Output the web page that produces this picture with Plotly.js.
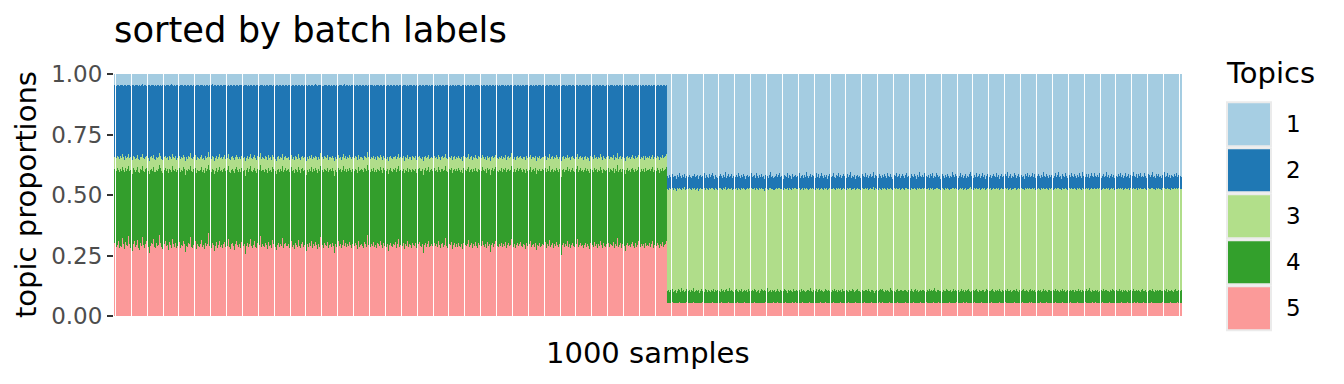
<!DOCTYPE html>
<html>
<head>
<meta charset="utf-8">
<script src="https://cdn.plot.ly/plotly-3.0.1.min.js"></script>
<style>html,body{margin:0;padding:0;background:#fff;}#chart{width:1344px;height:384px;}</style>
</head>
<body>
<div id="chart"></div>
<script>
// Topics (legend order) and their colours
const topicNames = ['1', '2', '3', '4', '5'];
const topicColors = ['#a6cee3', '#1f78b4', '#b2df8a', '#33a02c', '#fb9a99'];

// Cumulative topic proportions per sample (per mille).
// cum5 = topic 5; cum45 = topics 4+5; cum345 = topics 3+4+5; cum2345 = topics 2..5.
// Batch A: first 518 samples, batch B: remaining 482 samples.
const cum5A = [
301,287,295,312,279,290,284,322,298,276,305,293,288,331,296,281,270,299,310,286,
292,315,283,274,300,289,327,294,280,297,308,285,262,291,303,296,318,287,279,300,
288,293,336,301,284,276,297,310,289,295,271,304,292,283,319,298,286,300,279,291,
305,282,294,288,311,299,263,290,284,302,296,325,287,281,293,309,278,297,290,286,
299,314,285,292,276,303,288,297,341,291,283,300,294,268,289,306,282,295,312,287,
293,280,298,305,286,291,320,284,277,296,302,289,273,299,310,292,285,298,281,304,
288,296,256,291,303,284,299,317,290,282,295,308,287,279,301,293,329,286,297,291,
284,300,292,278,306,289,295,283,313,298,287,271,294,302,285,299,290,322,281,296,
303,288,291,297,280,309,286,293,275,300,294,284,315,291,279,298,305,287,292,268,
296,285,301,290,311,282,297,289,304,293,277,299,286,326,292,283,300,295,288,307,
281,294,299,287,302,290,259,296,284,308,291,297,280,293,316,288,301,285,298,290,
307,292,283,298,289,301,294,278,310,286,295,299,291,282,304,297,287,333,293,284,
299,290,306,285,293,281,300,296,288,312,294,279,302,291,286,298,270,295,303,289,
285,297,292,304,283,299,318,287,294,290,301,276,296,289,308,284,298,293,281,300,
294,288,301,279,297,305,290,286,299,262,293,302,287,296,311,284,291,298,288,303,
290,296,284,309,293,281,298,300,287,295,322,289,283,297,292,305,278,294,301,286,
298,287,302,291,284,296,275,303,292,288,299,314,285,293,300,281,297,290,306,289,
283,301,295,288,310,292,286,299,280,304,291,297,266,294,302,287,298,312,290,285,
296,289,303,284,298,291,307,282,295,300,288,293,319,286,299,281,294,302,290,297,
305,291,286,299,293,278,301,288,296,310,284,292,298,287,303,273,295,290,300,286,
288,297,292,304,281,299,290,315,286,294,301,283,296,289,307,292,285,298,251,293,
300,285,296,291,309,287,298,282,294,303,290,286,299,317,284,295,302,288,292,281,
294,303,287,298,290,276,301,293,285,306,291,299,283,296,288,312,294,280,300,291,
287,296,301,284,299,292,288,305,279,297,290,324,286,293,300,283,298,291,267,295,
302,289,294,285,298,307,291,283,300,287,295,311,284,296,290,299,282,303,288,294,
291,300,286,297,309,283,295,288,301,292,279,298,290,305,287,294,299,312];
const cum5B = [
55,54,53,55,56,54,53,54,55,52,54,56,55,53,54,55,54,53,56,54,
54,55,53,54,56,55,54,53,55,54,52,55,54,56,53,54,55,54,53,55,
53,54,56,55,54,53,55,54,52,55,56,54,53,54,55,53,54,56,55,54,
55,53,54,55,53,56,54,55,54,53,55,54,56,53,54,55,52,54,55,53,
54,56,55,53,54,55,54,52,55,54,53,55,56,54,53,55,54,53,54,56,
53,55,54,56,55,53,54,55,53,54,56,54,55,53,52,54,55,56,54,53,
56,54,53,54,55,54,56,53,55,54,53,55,54,56,55,53,54,55,53,54,
54,53,55,56,53,54,55,54,56,53,55,54,52,55,54,56,53,54,55,54,
55,54,56,53,54,55,53,54,55,56,54,53,55,54,53,54,56,55,54,52,
53,55,54,55,56,54,53,55,54,53,55,56,54,53,55,54,55,53,56,54,
54,56,53,54,55,53,55,54,56,54,53,55,54,55,53,56,54,53,55,54,
55,53,54,56,54,55,53,54,55,53,56,54,55,54,53,55,54,56,53,55,
54,55,56,53,55,54,54,53,55,56,54,53,55,54,56,53,55,54,53,54,
53,54,55,54,56,53,55,54,53,55,54,56,53,55,54,53,55,56,54,55,
56,55,53,54,55,54,53,56,54,55,53,54,55,53,56,54,53,55,54,53,
54,53,55,56,54,53,55,54,55,53,54,56,54,55,53,54,56,53,55,54,
55,54,53,55,53,56,54,55,53,54,55,53,56,54,55,53,54,55,54,56,
53,56,54,53,55,54,55,53,54,56,53,55,54,53,55,56,54,54,53,55,
54,55,53,56,54,55,53,54,55,53,56,54,55,54,53,55,53,56,54,55,
55,53,54,55,56,53,54,55,53,54,55,56,53,55,54,53,55,54,56,53,
54,56,55,53,54,55,53,56,54,55,54,53,55,53,56,54,55,54,53,55,
53,54,55,54,53,56,55,54,53,55,54,56,53,54,55,53,54,56,55,54,
56,53,54,55,54,53,56,55,54,53,55,54,55,56,53,54,55,53,54,55,
54,55,53,54,56,54,55,53,55,54,53,56,54,55,53,55,54,53,56,54,
55,54];

const cum45A = [
607,598,612,603,595,609,601,617,604,593,611,600,606,621,599,603,588,610,605,597,
602,614,596,591,608,603,619,600,594,606,612,598,585,604,609,601,616,597,593,605,
600,606,623,610,598,592,604,611,601,607,590,609,603,596,618,605,599,608,593,602,
611,597,604,600,615,606,583,603,598,609,605,620,601,595,607,613,591,604,600,598,
605,616,597,602,590,610,601,606,624,603,596,608,604,587,600,611,595,605,617,599,
603,594,607,612,598,602,619,597,591,605,609,600,589,606,614,603,597,607,594,610,
599,605,580,602,611,596,606,618,601,595,604,613,599,592,608,603,622,598,605,602,
596,608,603,591,612,600,605,594,616,606,598,587,603,609,597,607,601,620,594,605,
610,599,602,606,593,614,598,603,590,608,604,596,617,602,592,606,611,599,603,584,
605,597,609,601,615,595,606,600,611,603,591,607,598,621,603,595,609,604,599,612,
594,604,607,599,610,601,578,605,596,613,602,606,593,604,618,599,609,597,606,601,
612,603,595,607,600,609,604,591,615,598,605,607,602,594,610,606,599,625,603,596,
607,601,611,597,604,593,609,605,599,616,604,592,610,602,598,606,586,605,611,600,
597,606,603,610,595,607,619,599,604,601,609,590,605,600,613,596,607,603,593,609,
604,599,609,592,606,611,601,598,607,581,603,610,599,605,615,596,602,607,600,611,
601,605,596,614,603,593,607,609,599,604,620,600,595,606,602,611,590,604,609,598,
606,599,610,602,596,605,589,611,603,599,607,617,597,604,609,593,606,601,612,600,
595,609,604,600,614,603,598,607,592,611,602,606,584,604,610,599,607,616,601,597,
605,600,611,596,607,602,612,594,604,609,599,603,620,597,607,593,604,610,601,606,
611,602,597,607,603,591,609,600,605,615,596,603,607,599,611,588,604,601,609,598,
599,606,603,611,594,607,601,618,597,604,609,595,605,600,613,603,597,607,576,603,
609,596,605,602,614,599,607,594,604,611,601,597,607,619,596,604,610,599,603,593,
604,611,598,607,601,590,609,603,597,613,602,607,595,605,600,616,604,592,609,602,
598,605,610,596,607,603,599,612,592,606,601,622,597,604,609,595,607,602,586,605,
610,600,604,597,607,613,602,595,609,599,605,615,596,606,601,608,594,611,600,604,
602,609,598,606,614,595,604,600,610,603,591,607,601,612,599,605,608,616];
const cum45B = [
104,109,99,106,112,101,105,108,97,103,110,106,100,114,104,107,98,105,111,103,
106,101,108,104,115,99,105,109,102,107,96,104,110,105,101,112,106,99,108,103,
100,107,104,111,98,106,103,109,105,101,113,104,107,99,106,110,102,105,117,104,
108,103,99,106,110,104,101,107,105,112,98,104,109,103,106,100,111,105,102,107,
103,110,106,100,105,108,97,104,111,106,102,107,104,114,101,105,108,99,106,103,
107,101,105,112,104,99,108,105,102,110,106,103,97,107,104,109,105,101,113,104,
105,108,102,106,100,111,104,107,103,98,105,109,106,102,116,104,100,107,105,110,
101,106,110,104,107,103,99,105,112,106,102,108,104,100,107,105,111,103,106,98,
109,104,106,101,113,105,102,107,104,99,108,105,103,110,106,101,104,107,112,103,
104,99,107,105,102,109,106,103,111,104,100,106,108,104,97,105,109,102,106,110,
106,111,103,100,107,104,108,105,101,114,106,103,105,99,107,110,104,102,106,108,
102,105,109,106,104,98,107,103,110,105,101,106,112,104,107,100,105,108,103,106,
107,103,100,108,105,111,104,106,102,107,115,104,101,106,109,103,105,99,108,104,
105,110,106,102,104,107,99,105,111,103,106,104,108,101,105,110,103,106,100,107,
103,106,112,104,101,105,108,102,106,110,104,98,107,105,103,109,106,101,104,111,
108,102,105,107,110,104,100,106,103,108,105,112,104,99,106,103,107,105,110,102,
104,107,101,105,109,106,103,111,105,100,107,104,106,113,102,105,108,104,99,106,
110,104,106,103,107,101,105,109,104,106,98,105,111,103,107,104,100,106,108,105,
103,108,105,110,102,106,104,99,107,105,112,103,106,101,105,109,104,107,102,106,
106,101,107,104,105,111,103,106,100,108,104,105,110,102,106,114,104,101,107,105,
104,109,103,106,100,105,108,104,111,102,106,107,103,105,99,108,104,110,106,103,
107,102,105,112,104,106,101,107,103,109,105,100,106,104,108,103,111,105,102,106,
105,108,104,100,106,110,103,105,107,101,104,109,106,103,112,105,100,107,104,108,
102,106,109,105,103,107,104,111,101,106,105,103,108,104,99,106,110,103,105,107,
104,106];

const cum345A = [
657,651,662,655,648,660,653,668,656,646,661,654,658,671,652,655,643,660,657,650,
654,665,649,645,659,656,670,652,647,657,663,651,641,656,660,653,667,650,646,657,
652,658,674,662,650,645,656,663,653,659,644,661,655,649,669,657,651,660,646,654,
663,650,656,652,666,658,640,655,650,661,657,672,653,648,659,664,645,656,652,650,
657,667,650,654,644,662,653,658,676,655,649,660,656,642,652,663,648,657,668,651,
655,647,659,664,650,654,670,649,645,657,661,652,643,658,665,655,649,659,647,662,
651,657,641,654,663,648,658,669,653,647,656,665,651,645,660,655,673,650,657,654,
648,660,655,644,664,652,657,646,667,658,650,642,655,661,649,659,653,671,646,657,
662,651,654,658,646,665,650,655,643,660,656,648,668,654,645,658,663,651,655,640,
657,649,661,653,666,647,658,652,663,655,644,659,650,672,655,647,661,656,651,664,
646,656,659,651,662,653,641,657,648,665,654,658,645,656,669,651,661,649,658,653,
664,655,647,659,652,661,656,644,666,650,657,659,654,646,662,658,651,676,655,648,
659,653,663,649,656,645,661,657,651,667,656,644,662,654,650,658,640,657,663,652,
649,658,655,662,647,659,670,651,656,653,661,642,657,652,665,648,659,655,645,661,
656,651,661,644,658,663,653,650,659,641,655,662,651,657,667,648,654,659,652,663,
653,657,648,666,655,645,659,661,651,656,671,652,647,658,654,663,643,656,661,650,
658,651,662,654,648,657,641,663,655,651,659,668,649,656,661,645,658,653,664,652,
647,661,656,652,666,655,650,659,644,663,654,658,640,656,662,651,659,667,653,649,
657,652,663,648,659,654,664,646,656,661,651,655,672,649,659,645,656,662,653,658,
663,654,649,659,655,643,661,652,657,667,648,655,659,651,663,641,656,653,661,650,
651,658,655,663,646,659,653,669,649,656,661,647,657,652,665,655,649,659,640,655,
661,648,657,654,666,651,659,646,656,663,653,649,659,670,648,656,662,651,655,645,
656,663,650,659,653,642,661,655,649,665,654,659,647,657,652,668,656,644,661,654,
650,657,662,648,659,655,651,664,644,658,653,673,649,656,661,647,659,654,641,657,
662,652,656,649,659,665,654,647,661,651,657,667,648,658,653,660,646,663,652,656,
654,661,650,658,666,647,656,652,662,655,643,659,653,664,651,657,660,668];
const cum345B = [
526,522,529,524,531,520,527,525,518,528,523,530,525,521,527,524,532,519,526,523,
528,524,520,527,525,530,522,526,529,517,525,528,523,526,531,521,527,524,520,529,
523,527,531,525,519,528,524,522,527,530,525,520,528,524,533,522,526,529,523,525,
529,521,526,524,528,522,530,525,520,527,524,531,526,519,525,528,523,527,530,524,
525,528,522,530,526,520,527,524,529,523,526,518,528,525,522,527,531,524,526,521,
522,526,529,524,527,531,523,525,520,528,526,524,530,522,527,525,519,528,524,527,
527,523,525,530,522,526,528,521,527,524,531,525,520,526,529,523,527,525,522,530,
524,529,521,526,531,525,522,528,524,527,520,526,529,523,525,530,524,521,527,526,
530,524,527,522,525,528,526,520,529,524,527,531,522,526,524,528,519,525,527,523,
525,521,528,526,523,530,524,527,521,526,529,524,525,532,522,527,525,520,528,526,
521,527,524,529,525,522,531,526,523,528,524,520,527,525,530,523,526,528,522,525,
528,525,522,527,530,524,526,521,528,525,523,529,526,520,527,524,531,525,523,527,
524,530,526,523,527,521,528,525,529,522,526,524,530,527,523,525,520,528,526,522,
527,523,529,525,521,526,524,531,527,523,528,525,522,526,530,524,527,521,525,529,
522,526,524,528,532,525,521,527,524,529,523,526,528,522,525,531,524,527,520,526,
529,524,527,521,526,528,525,523,530,524,527,520,526,529,523,526,528,525,531,522,
525,528,522,526,524,530,527,521,525,529,523,527,524,526,520,528,525,530,523,527,
523,526,530,524,528,522,525,529,526,521,527,524,531,525,523,528,526,522,527,524,
527,522,525,529,523,527,531,524,526,520,528,525,523,529,526,522,527,524,530,525,
524,528,526,521,527,524,529,525,522,530,526,523,527,524,528,521,526,529,525,523,
530,525,523,527,524,529,522,526,528,524,525,531,523,527,521,526,528,524,527,522,
526,523,528,525,530,524,527,522,526,529,523,525,528,521,527,524,530,526,523,528,
522,527,525,529,523,526,524,530,525,521,528,526,523,527,531,524,526,522,528,525,
528,524,526,522,527,530,523,525,529,524,526,521,527,525,523,528,526,530,524,527,
525,523];

const cum2345A = [
954,952,955,953,951,954,956,953,952,955,953,950,954,953,956,952,954,953,951,955,
953,955,952,954,951,953,957,952,954,953,950,955,953,952,954,956,953,951,954,952,
955,953,951,954,952,956,953,950,954,953,955,952,954,957,953,951,954,952,955,953,
952,954,953,955,951,953,954,952,956,953,951,954,955,952,953,950,954,953,956,952,
954,953,956,952,954,951,953,955,952,954,953,957,951,953,954,952,955,953,950,954,
953,951,954,953,955,952,954,950,953,956,952,954,953,951,955,953,952,954,953,956,
951,954,953,955,952,953,950,954,956,952,953,955,951,954,953,952,956,953,954,951,
954,952,955,953,951,954,953,956,952,954,950,953,955,952,954,953,951,955,953,952,
953,955,952,954,953,951,956,953,952,954,955,950,953,954,952,956,953,951,954,953,
952,954,953,951,955,953,952,954,957,953,951,954,953,955,952,950,954,953,956,952,
955,953,951,954,952,956,953,952,954,951,955,953,954,952,953,957,951,954,953,952,
953,951,954,956,953,952,955,953,951,954,953,952,956,954,950,953,955,952,954,953,
954,953,952,955,951,954,953,956,952,953,954,951,955,953,952,954,953,950,956,953,
951,954,956,952,954,953,951,955,953,952,954,956,953,951,954,952,955,953,954,950,
953,955,952,954,951,953,956,952,954,953,950,954,953,955,952,954,951,953,956,952,
954,952,953,951,955,954,952,956,953,950,954,953,955,952,954,951,953,955,952,954,
952,954,955,953,952,951,954,953,956,952,953,954,951,955,953,952,954,950,953,955,
955,953,951,954,952,955,953,950,954,956,952,953,954,951,953,955,952,954,953,951,
953,952,954,956,953,951,954,952,955,953,950,954,953,952,956,954,951,953,955,952,
954,951,953,955,952,954,956,953,951,954,953,952,955,950,953,954,952,956,953,954,
952,955,953,951,954,953,952,955,953,956,951,954,953,952,954,950,955,953,952,954,
953,954,952,955,951,953,954,956,952,953,955,951,954,953,952,955,953,950,954,956,
955,952,954,953,950,954,953,952,956,953,951,954,955,952,953,954,951,953,955,952,
951,953,955,952,954,956,953,951,954,952,953,955,950,954,953,952,956,953,951,954,
954,952,953,956,952,954,951,953,955,953,952,954,953,950,954,956,952,953,954,951,
953,955,952,954,951,953,956,952,954,953,950,955,953,952,954,953,951,955];
const cum2345B = [
579,571,584,576,588,573,580,577,566,583,575,590,578,572,581,576,586,569,579,574,
582,575,570,580,577,587,573,579,584,565,578,582,574,580,592,571,581,576,569,585,
574,581,589,577,568,583,576,572,580,587,578,570,584,575,595,572,579,586,574,578,
585,571,579,576,583,573,590,578,569,581,575,588,579,567,577,584,574,580,589,576,
577,584,572,591,579,570,582,576,587,574,579,565,583,578,572,581,593,575,579,571,
573,580,587,575,582,589,574,578,568,584,579,576,591,572,581,577,566,585,575,580,
581,574,577,589,572,579,584,570,582,576,594,578,569,580,587,574,582,577,571,590,
576,586,570,580,592,577,572,584,575,581,568,579,587,574,578,590,576,570,583,579,
590,575,582,571,578,585,579,569,588,575,582,593,572,580,576,584,566,578,583,574,
578,570,585,580,574,591,576,582,570,579,587,575,578,596,572,583,577,569,586,580,
571,583,576,588,578,572,592,580,574,585,576,568,582,578,589,573,580,586,572,577,
585,578,572,582,590,575,580,570,586,577,574,588,580,567,583,576,594,578,573,581,
576,591,580,573,584,570,586,578,589,572,580,575,592,582,574,578,568,585,580,572,
582,573,588,577,570,580,575,593,583,574,586,578,571,580,590,576,583,569,578,588,
572,580,575,586,596,578,570,584,576,589,573,580,585,572,578,592,575,583,567,580,
588,576,582,570,580,586,577,574,591,575,583,568,579,588,573,580,585,577,594,572,
578,586,572,580,575,590,582,569,578,588,574,583,576,580,566,586,578,591,573,582,
574,580,591,576,585,571,578,588,580,570,583,576,593,578,573,586,580,572,584,576,
583,572,578,589,574,583,594,576,580,567,587,578,574,590,580,571,584,576,591,578,
576,586,580,570,584,575,590,578,572,593,580,574,585,576,587,570,580,589,578,573,
592,578,573,584,576,590,571,580,587,575,578,595,574,583,569,580,586,576,584,572,
580,574,587,578,592,575,583,571,580,590,574,578,586,569,584,577,593,580,574,586,
571,585,578,590,574,580,576,592,578,570,587,581,574,584,596,576,580,572,587,578,
586,576,580,571,584,593,574,578,590,576,582,569,584,578,573,588,580,592,575,583,
578,574];

// ---- build per-topic proportions from the cumulative edges ----
const toProp = a => a.map(v => v / 1000);
const c5 = toProp(cum5A.concat(cum5B));
const c45 = toProp(cum45A.concat(cum45B));
const c345 = toProp(cum345A.concat(cum345B));
const c2345 = toProp(cum2345A.concat(cum2345B));
const nSamples = c5.length;
const sampleIdx = c5.map((_, i) => i);

const topicProps = {
  '5': c5,
  '4': c45.map((v, i) => v - c5[i]),
  '3': c345.map((v, i) => v - c45[i]),
  '2': c2345.map((v, i) => v - c345[i]),
  '1': c2345.map(v => 1 - v)
};

const FONT = 'DejaVu Sans, sans-serif';
const W = 1344, H = 384;
const L = 114, R = 1182, T = 74, B = 316;
const px2x = p => (p - L) / (R - L);
const py2y = p => (B - p) / (B - T);

// stack bottom -> top: topic 5, 4, 3, 2, 1
const traces = ['5', '4', '3', '2', '1'].map(k => {
  const col = topicColors[topicNames.indexOf(k)];
  return {
    type: 'bar',
    name: k,
    x: sampleIdx,
    y: topicProps[k],
    width: 0.937,
    marker: {color: col, line: {width: 0.02, color: col}},
    hoverinfo: 'skip',
    showlegend: false
  };
});

const pxPerSample = 1.0672;
const x0 = -0.9055;
const x1 = x0 + (R - L) / pxPerSample;

const shapes = [];
const annotations = [];

// legend (drawn as large key boxes like ggplot)
topicNames.forEach((name, k) => {
  const top = 102.3 + 46 * k;
  shapes.push({
    type: 'rect', xref: 'paper', yref: 'paper',
    x0: px2x(1227), x1: px2x(1271),
    y0: py2y(top), y1: py2y(top + 44),
    fillcolor: topicColors[k],
    line: {color: '#ebebeb', width: 2}
  });
  annotations.push({
    xref: 'paper', yref: 'paper',
    x: px2x(1284), y: py2y(top + 22),
    xanchor: 'left', yanchor: 'middle',
    text: name, showarrow: false,
    font: {family: FONT, size: 23, color: '#000000'}
  });
});
annotations.push({
  xref: 'paper', yref: 'paper', x: px2x(1224), y: py2y(73.3),
  xanchor: 'left', yanchor: 'middle', text: 'Topics', showarrow: false,
  font: {family: FONT, size: 29, color: '#000000'}
});
// title
annotations.push({
  xref: 'paper', yref: 'paper', x: px2x(112), y: py2y(29.6),
  xanchor: 'left', yanchor: 'middle', text: 'sorted by batch labels', showarrow: false,
  font: {family: FONT, size: 35.3, color: '#000000'}
});
// axis titles
annotations.push({
  xref: 'paper', yref: 'paper', x: px2x(648), y: py2y(352.7),
  xanchor: 'center', yanchor: 'middle', text: nSamples + ' samples', showarrow: false,
  font: {family: FONT, size: 29, color: '#000000'}
});
annotations.push({
  xref: 'paper', yref: 'paper', x: px2x(26), y: py2y(195),
  xanchor: 'center', yanchor: 'middle', textangle: -90,
  text: 'topic proportions', showarrow: false,
  font: {family: FONT, size: 29, color: '#000000'}
});

const layout = {
  width: W, height: H,
  margin: {l: L, r: W - R, t: T, b: H - B, pad: 0},
  paper_bgcolor: '#ffffff', plot_bgcolor: '#ffffff',
  barmode: 'stack', bargap: 0, bargroupgap: 0,
  showlegend: false,
  xaxis: {range: [x0, x1], showticklabels: false, ticks: '', showgrid: false,
          zeroline: false, showline: false, automargin: false, fixedrange: true},
  yaxis: {range: [0, 1], tickvals: [0, 0.25, 0.5, 0.75, 1],
          ticktext: ['0.00', '0.25', '0.50', '0.75', '1.00'],
          ticks: 'outside', ticklen: 6, tickwidth: 2, tickcolor: '#333333',
          tickfont: {family: FONT, size: 23, color: '#4d4d4d'},
          showgrid: false, zeroline: false, showline: false, automargin: false, fixedrange: true},
  shapes: shapes,
  annotations: annotations
};

Plotly.newPlot('chart', traces, layout, {displayModeBar: false, responsive: false});
</script>
</body>
</html>
